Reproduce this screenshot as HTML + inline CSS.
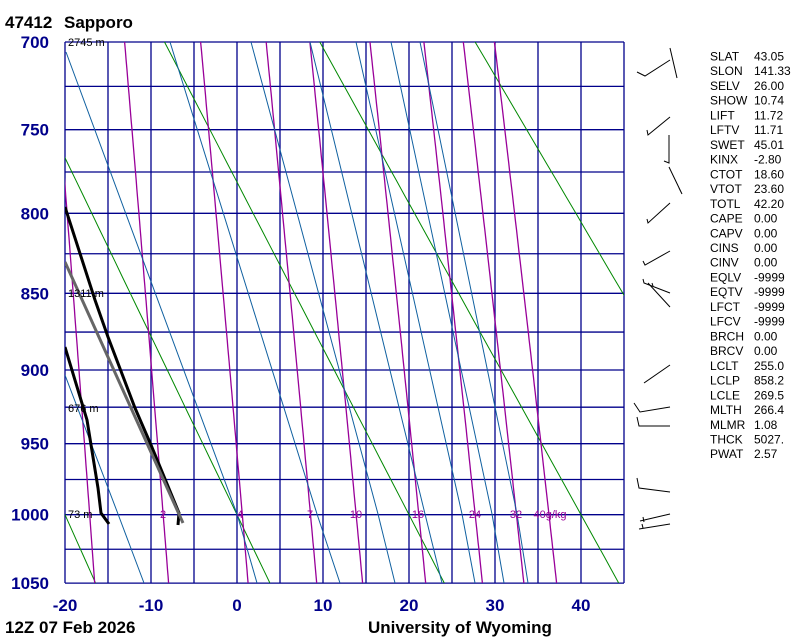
<!DOCTYPE html>
<html><head><meta charset="utf-8">
<style>
html,body{margin:0;padding:0;background:#fff;}
body{width:800px;height:640px;overflow:hidden;position:relative;font-family:"Liberation Sans",sans-serif;}
svg{position:absolute;left:0;top:0;}
</style></head>
<body>
<svg id="s" width="800" height="640" xmlns="http://www.w3.org/2000/svg">
<defs><clipPath id="c"><rect x="65" y="42" width="559" height="541"/></clipPath></defs>
<g id="grid"></g>
<g id="lines" clip-path="url(#c)"></g>
<g id="snd" clip-path="url(#c)">
<polyline points="178,525 179,513 151,445 135,408 108,337 95,300 65,207" fill="none" stroke="#000" stroke-width="3"/>
<polyline points="183,523 65,262" fill="none" stroke="#666" stroke-width="3"/>
<polyline points="109,524 101,513 98,488 87,420 65,347" fill="none" stroke="#000" stroke-width="3"/>
</g>
<g font-size="11" fill="#000">
<text x="68" y="46">2745 m</text>
<text x="68" y="297">1311 m</text>
<text x="68" y="412">676 m</text>
<text x="68" y="518">73 m</text>
</g>
<g font-size="11" fill="#990099" text-anchor="middle">
<text x="163" y="518">2</text><text x="240" y="518">4</text><text x="310" y="518">7</text>
<text x="356" y="518">10</text><text x="418" y="518">16</text><text x="475" y="518">24</text>
<text x="516" y="518">32</text><text x="550" y="518">40g/kg</text>
</g>
<g stroke="#000" stroke-width="1" fill="none">
<polyline points="637,72 645,76 670,60"/><line x1="670" y1="48" x2="677" y2="78"/>
<polyline points="647,130 648,135 670,117"/>
<polyline points="664,161 669,163 669,135"/><polyline points="669,167 682,194 679,188"/>
<polyline points="647,219 648,223 670,203"/>
<polyline points="643,261 645,265 670,251"/>
<polyline points="643,279 644,283 670,293"/><line x1="648" y1="283" x2="670" y2="307"/><line x1="652" y1="283" x2="653" y2="286"/>
<line x1="644" y1="383" x2="670" y2="365"/>
<polyline points="634,403 640,412 670,407"/>
<polyline points="637,417 639,426 670,426"/>
<polyline points="637,478 639,488 670,492"/>
<line x1="640" y1="521" x2="670" y2="514"/><line x1="643" y1="517" x2="644" y2="522"/>
<line x1="639" y1="529" x2="670" y2="524"/><line x1="642" y1="524" x2="643" y2="528"/>
</g>
<g font-size="17" font-weight="bold" fill="#000">
<text x="5" y="28">47412</text><text x="64" y="28">Sapporo</text>
<text x="5" y="633">12Z 07 Feb 2026</text>
<text x="368" y="633">University of Wyoming</text>
</g>
<g font-size="17" font-weight="bold" fill="#00008b" id="plab" text-anchor="end"></g>
<g font-size="17" font-weight="bold" fill="#00008b" id="tlab" text-anchor="middle"></g>
<g font-size="12" fill="#000" id="idx"></g>
</svg>
<script>
var NS="http://www.w3.org/2000/svg";
function X(T){return 65+(T+20)*8.6;}
var P0=Math.pow(700,0.286);
function Y(p){return 42+675.9*(Math.pow(p,0.286)-P0);}
function el(par,tag,attrs,txt){var e=document.createElementNS(NS,tag);for(var k in attrs)e.setAttribute(k,attrs[k]);if(txt!==undefined)e.textContent=txt;document.getElementById(par).appendChild(e);return e;}
function poly(par,pts,col,w){el(par,"polyline",{points:pts.map(function(a){return a[0].toFixed(1)+","+a[1].toFixed(1)}).join(" "),fill:"none",stroke:col,"stroke-width":w||1});}
var GC="#00008b";
for(var p=700;p<=1050;p+=25){var y=Y(p);el("grid","line",{x1:65,x2:624,y1:y,y2:y,stroke:GC,"stroke-width":1.3});}
for(var T=-20;T<=45;T+=5){var x=X(T);el("grid","line",{x1:x,x2:x,y1:42,y2:583,stroke:GC,"stroke-width":1.3});}
for(var th=-60;th<=100;th+=20){var pts=[];for(var p=650;p<=1100;p+=10){pts.push([X((th+273.15)*Math.pow(p/1000,0.286)-273.15),Y(p)]);}poly("lines",pts,"#008800",1);}
[1,2,4,7,10,16,24,32,40].forEach(function(w){var pts=[];for(var p=650;p<=1100;p+=5){var e=w*p/(622+w);var l=Math.log(e/6.112);var td=243.5*l/(17.67-l);pts.push([X(td),Y(p)]);}poly("lines",pts,"#990099",1.3);});
var ML=[[[65,375],[118,514],[144,583]],[[66,52],[237,514],[257,583]],[[170,42],[317,514],[340,583]],[[251,42],[378,514],[395,583]],[[310,42],[425,514],[442,583]],[[356,42],[462,514],[475,583]],[[391,42],[492,514],[504,583]],[[420,42],[517,514],[528,583]]];
ML.forEach(function(m){poly("lines",m,"#1060a0",1);});
[700,750,800,850,900,950,1000,1050].forEach(function(p){el("plab","text",{x:49,y:Y(p)+6},String(p));});
[-20,-10,0,10,20,30,40].forEach(function(t){el("tlab","text",{x:X(t),y:611},String(t));});
var rows=[["SLAT","43.05"],["SLON","141.33"],["SELV","26.00"],["SHOW","10.74"],["LIFT","11.72"],["LFTV","11.71"],["SWET","45.01"],["KINX","-2.80"],["CTOT","18.60"],["VTOT","23.60"],["TOTL","42.20"],["CAPE","0.00"],["CAPV","0.00"],["CINS","0.00"],["CINV","0.00"],["EQLV","-9999"],["EQTV","-9999"],["LFCT","-9999"],["LFCV","-9999"],["BRCH","0.00"],["BRCV","0.00"],["LCLT","255.0"],["LCLP","858.2"],["LCLE","269.5"],["MLTH","266.4"],["MLMR","1.08"],["THCK","5027."],["PWAT","2.57"]];
rows.forEach(function(r,i){var y=60.5+14.73*i;el("idx","text",{x:710,y:y},r[0]);el("idx","text",{x:754,y:y},r[1]);});
</script>
</body></html>
